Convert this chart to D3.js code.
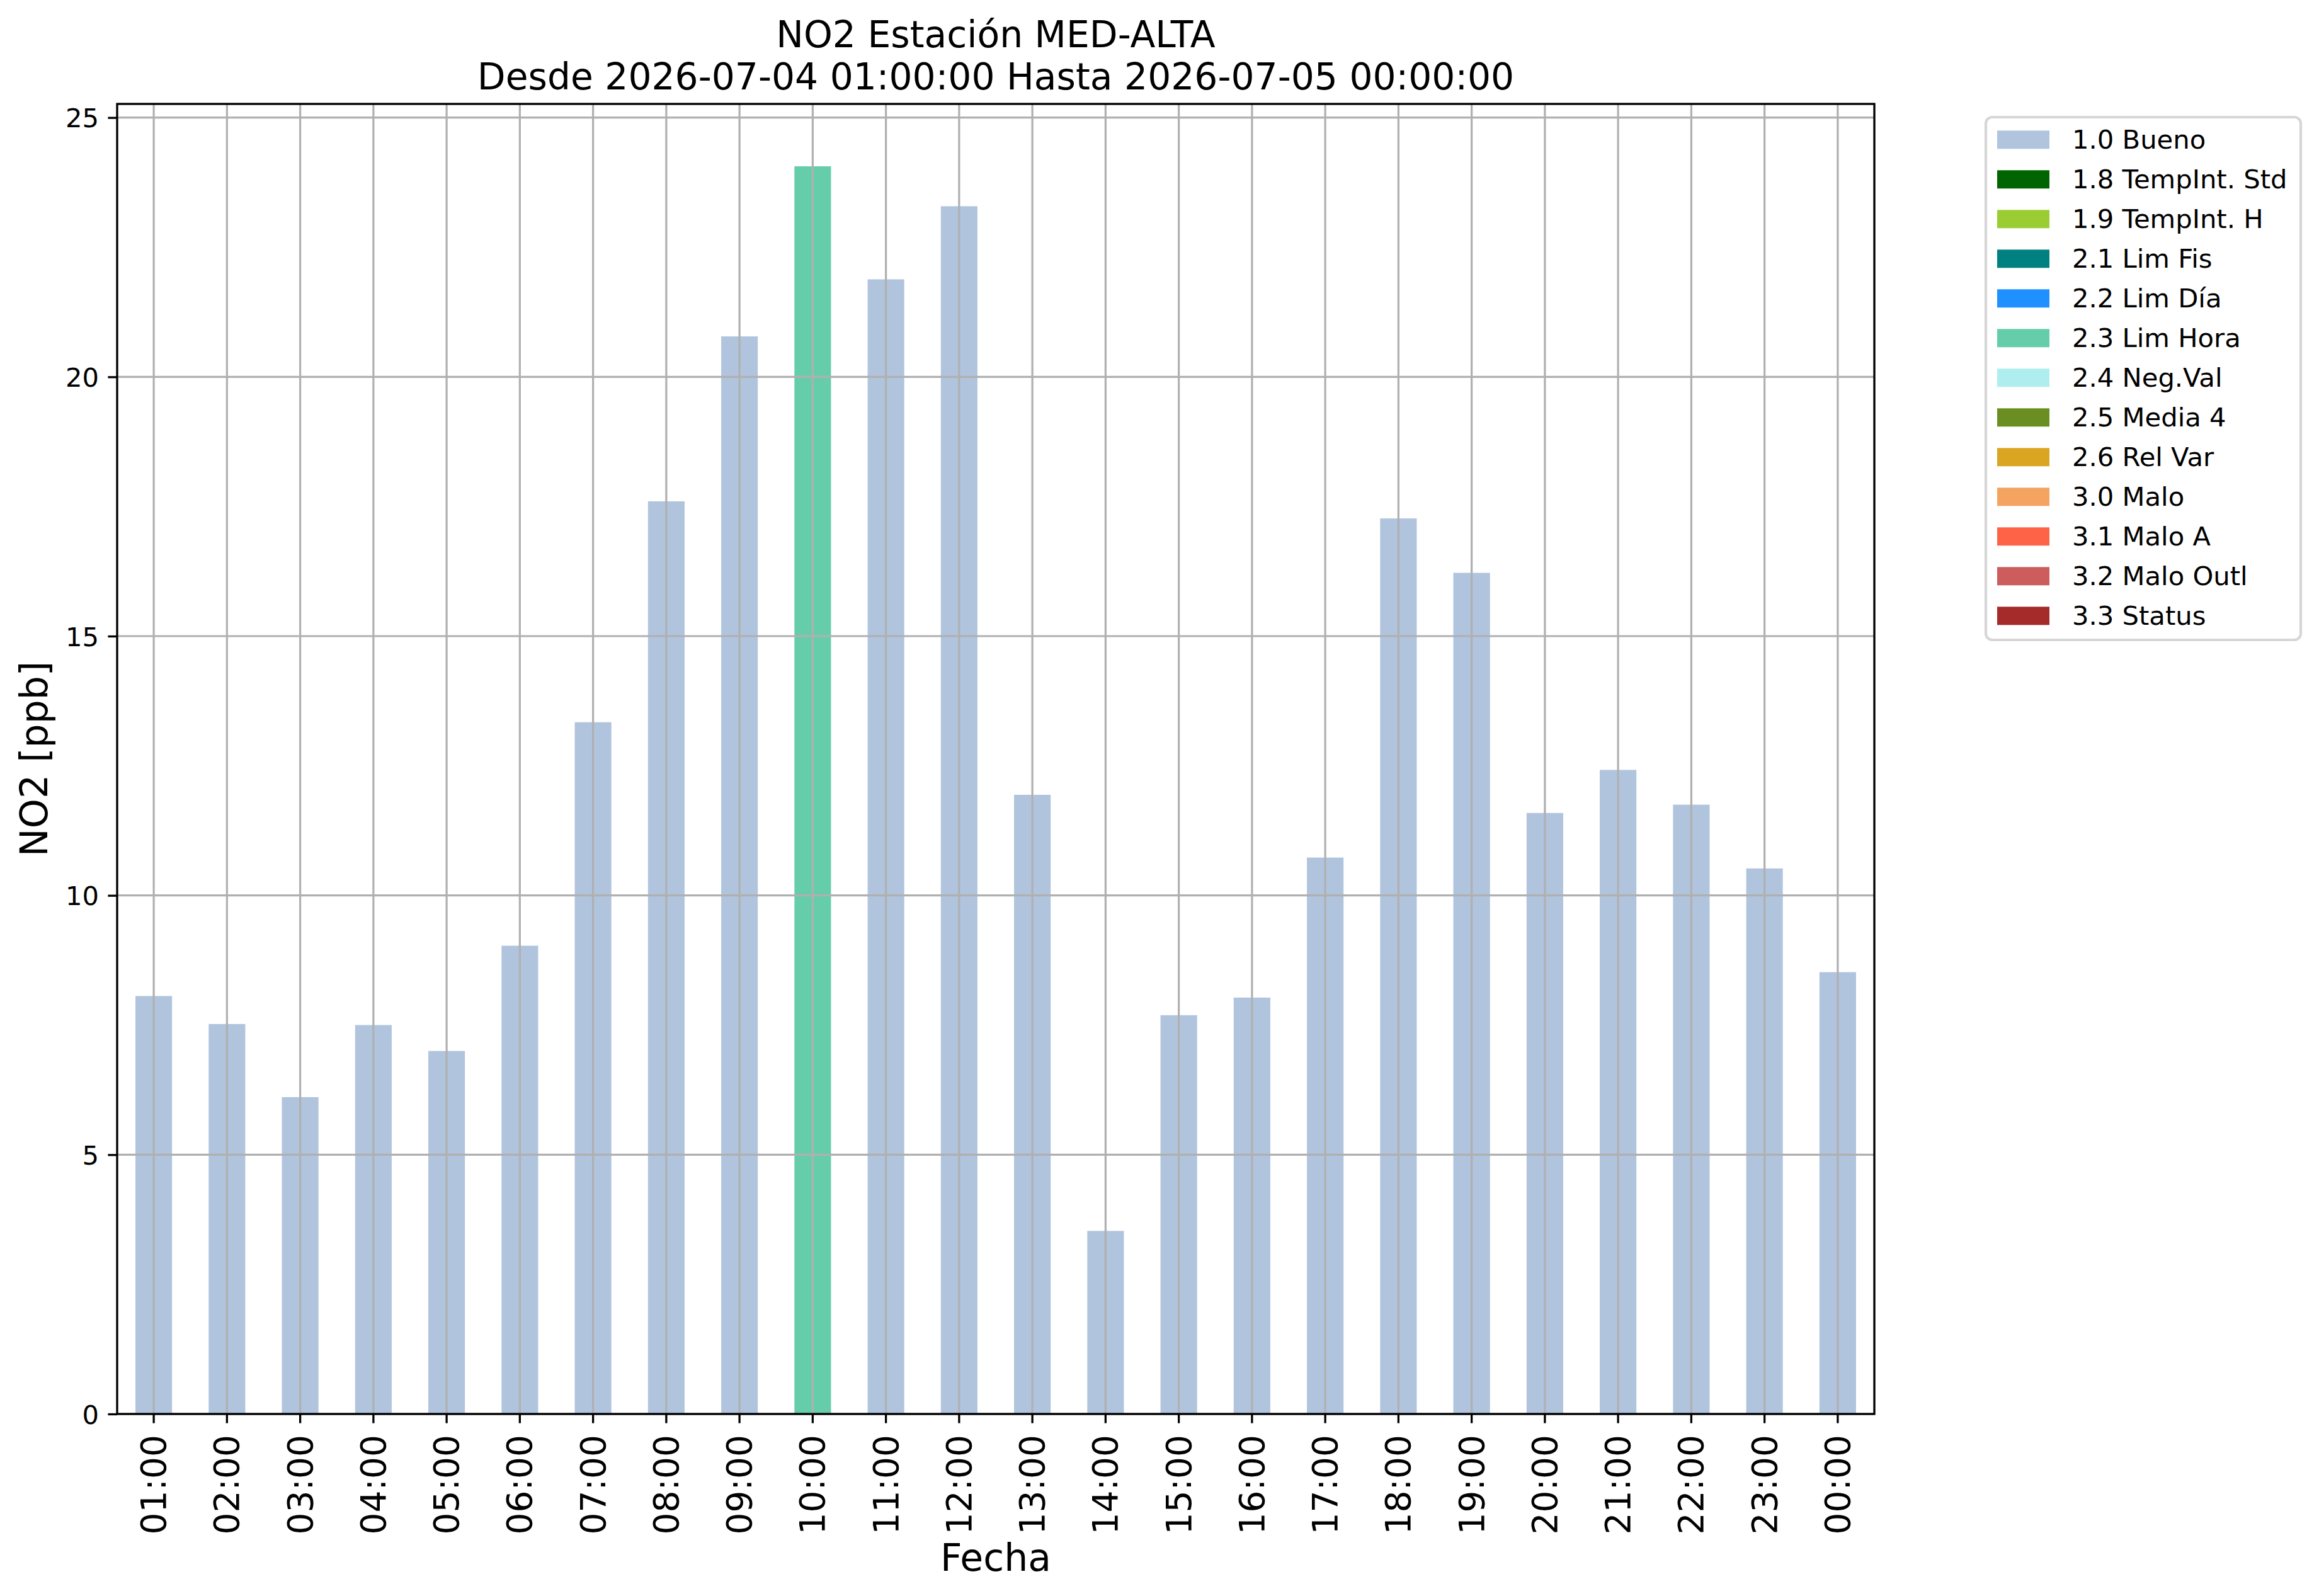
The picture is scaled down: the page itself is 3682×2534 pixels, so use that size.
<!DOCTYPE html>
<html>
<head>
<meta charset="utf-8">
<script src="https://cdn.jsdelivr.net/npm/d3@7"></script>
<style>
  body { margin: 0; background: #fff; }
  text { font-family: "DejaVu Sans", sans-serif; }
</style>
</head>
<body>
<svg id="chart"></svg>
<script>
// hours on the x axis
const hours = ["01:00","02:00","03:00","04:00","05:00","06:00","07:00","08:00",
               "09:00","10:00","11:00","12:00","13:00","14:00","15:00","16:00",
               "17:00","18:00","19:00","20:00","21:00","22:00","23:00","00:00"];

// NO2 [ppb] per hour
const no2 = [8.06, 7.52, 6.11, 7.50, 7.00, 9.03, 13.34, 17.60,
             20.78, 24.06, 21.88, 23.29, 11.94, 3.53, 7.69, 8.03,
             10.73, 17.27, 16.22, 11.59, 12.42, 11.75, 10.52, 8.52];

// validation flag of each hour
const flags = ["1.0 Bueno","1.0 Bueno","1.0 Bueno","1.0 Bueno","1.0 Bueno","1.0 Bueno","1.0 Bueno","1.0 Bueno",
               "1.0 Bueno","2.3 Lim Hora","1.0 Bueno","1.0 Bueno","1.0 Bueno","1.0 Bueno","1.0 Bueno","1.0 Bueno",
               "1.0 Bueno","1.0 Bueno","1.0 Bueno","1.0 Bueno","1.0 Bueno","1.0 Bueno","1.0 Bueno","1.0 Bueno"];

// legend series + colours
const flagNames = ["1.0 Bueno","1.8 TempInt. Std","1.9 TempInt. H","2.1 Lim Fis","2.2 Lim Día",
                   "2.3 Lim Hora","2.4 Neg.Val","2.5 Media 4","2.6 Rel Var","3.0 Malo",
                   "3.1 Malo A","3.2 Malo Outl","3.3 Status"];
const flagColors = ["lightsteelblue","darkgreen","yellowgreen","teal","dodgerblue",
                    "mediumaquamarine","paleturquoise","olivedrab","goldenrod","sandybrown",
                    "tomato","indianred","brown"];

const yTicks = [0, 5, 10, 15, 20, 25];

const W = 3682, H = 2534;
const plot = {left: 186, right: 2976, top: 165, bottom: 2245};

const svg = d3.select('#chart')
    .attr('width', W)
    .attr('height', H);

svg.append('rect').attr('width', W).attr('height', H).attr('fill', '#fff');

// one row per hour, one column per flag (stacked like pandas)
const table = hours.map((h, i) => {
  const row = {hour: h};
  flagNames.forEach(f => row[f] = (flags[i] === f) ? no2[i] : 0);
  return row;
});
const stacked = d3.stack().keys(flagNames)(table);

const color = d3.scaleOrdinal().domain(flagNames).range(flagColors);

const x = d3.scaleBand()
    .domain(hours)
    .range([plot.left, plot.right])
    .paddingInner(0.5)
    .paddingOuter(0.25);

const y = d3.scaleLinear()
    .domain([0, d3.max(no2) * 1.05])
    .range([plot.bottom, plot.top]);

// bars
svg.append('g')
  .selectAll('g')
  .data(stacked)
  .join('g')
    .attr('fill', d => color(d.key))
  .selectAll('rect')
  .data(d => d.filter(s => s[1] - s[0] > 0))
  .join('rect')
    .attr('x', d => x(d.data.hour))
    .attr('width', x.bandwidth())
    .attr('y', d => y(d[1]))
    .attr('height', d => y(d[0]) - y(d[1]));

// grid on top of bars
const grid = svg.append('g')
    .attr('stroke', '#b0b0b0')
    .attr('stroke-width', 3.2);

grid.selectAll('.hg')
  .data(yTicks)
  .join('line')
    .attr('class', 'hg')
    .attr('x1', plot.left).attr('x2', plot.right)
    .attr('y1', d => y(d)).attr('y2', d => y(d));

grid.selectAll('.vg')
  .data(hours)
  .join('line')
    .attr('class', 'vg')
    .attr('x1', d => x(d) + x.bandwidth() / 2)
    .attr('x2', d => x(d) + x.bandwidth() / 2)
    .attr('y1', plot.top).attr('y2', plot.bottom);

// axes
const tickLen = 14.6;

const xAxis = svg.append('g')
    .attr('transform', `translate(0,${plot.bottom})`)
    .call(d3.axisBottom(x).tickSize(tickLen))
    .call(g => g.select('.domain').remove());

xAxis.selectAll('line').attr('stroke', '#000').attr('stroke-width', 3.3);
xAxis.selectAll('text')
    .attr('transform', 'rotate(-90)')
    .attr('text-anchor', 'end')
    .attr('x', -33)
    .attr('y', 19)
    .attr('dy', null)
    .attr('fill', '#000')
    .style('font-size', '55px');

const yAxis = svg.append('g')
    .attr('transform', `translate(${plot.left},0)`)
    .call(d3.axisLeft(y).tickValues(yTicks).tickSize(tickLen))
    .call(g => g.select('.domain').remove());

yAxis.selectAll('line').attr('stroke', '#000').attr('stroke-width', 3.3);
yAxis.selectAll('text')
    .attr('x', -29)
    .attr('dy', '0.36em')
    .attr('fill', '#000')
    .style('font-size', '41.7px');

// spines
svg.append('rect')
    .attr('x', plot.left).attr('y', plot.top)
    .attr('width', plot.right - plot.left)
    .attr('height', plot.bottom - plot.top)
    .attr('fill', 'none')
    .attr('stroke', '#000')
    .attr('stroke-width', 3.3);

// titles and axis labels
const cx = (plot.left + plot.right) / 2;

svg.append('text')
    .attr('x', cx).attr('y', 75)
    .attr('text-anchor', 'middle')
    .style('font-size', '58.3px')
    .text('NO2 Estación MED-ALTA');

svg.append('text')
    .attr('x', cx).attr('y', 142)
    .attr('text-anchor', 'middle')
    .style('font-size', '58.3px')
    .text('Desde 2026-07-04 01:00:00 Hasta 2026-07-05 00:00:00');

svg.append('text')
    .attr('x', cx).attr('y', 2494)
    .attr('text-anchor', 'middle')
    .style('font-size', '60px')
    .text('Fecha');

svg.append('text')
    .attr('transform', `translate(75,${(plot.top + plot.bottom) / 2}) rotate(-90)`)
    .attr('text-anchor', 'middle')
    .style('font-size', '60px')
    .text('NO2 [ppb]');

// legend
const legend = svg.append('g');

legend.append('rect')
    .attr('x', 3153).attr('y', 186)
    .attr('width', 500).attr('height', 830)
    .attr('rx', 10).attr('ry', 10)
    .attr('fill', '#fff')
    .attr('stroke', '#d6d6d6')
    .attr('stroke-width', 4.2);

const items = legend.selectAll('.item')
  .data(flagNames)
  .join('g')
    .attr('class', 'item')
    .attr('transform', (d, i) => `translate(3171,${207.3 + i * 63})`);

items.append('rect')
    .attr('width', 83)
    .attr('height', 29)
    .attr('fill', d => color(d));

items.append('text')
    .attr('x', 119)
    .attr('y', 29)
    .style('font-size', '41.7px')
    .text(d => d);
</script>
</body>
</html>
